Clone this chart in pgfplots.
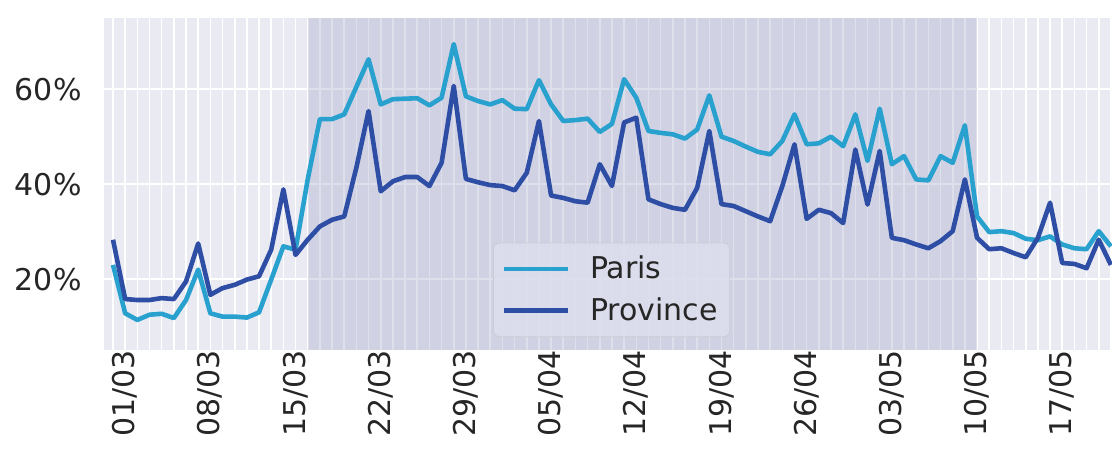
\documentclass[border=0pt]{standalone}
\usepackage{pgfplots}
\pgfplotsset{compat=1.18}
\usepackage{pgfplotstable}
\usepackage{fontspec}
\setmainfont{DejaVu Sans}
\definecolor{bgc}{RGB}{234,234,242}
\definecolor{shadec}{RGB}{166,171,205}
\definecolor{parisc}{RGB}{41,161,207}
\definecolor{provc}{RGB}{45,78,164}
\definecolor{txtc}{RGB}{38,38,38}
\definecolor{legfill}{RGB}{220,222,236}
\definecolor{legdraw}{RGB}{204,204,214}

\pgfplotstableread{
d paris prov
0 23.0 28.3
1 12.8 15.8
2 11.4 15.6
3 12.5 15.6
4 12.7 16.0
5 11.8 15.8
6 15.6 19.5
7 22.0 27.5
8 12.8 16.7
9 12.1 18.1
10 12.1 18.8
11 11.9 19.9
12 13.0 20.6
13 19.9 26.2
14 26.9 38.9
15 26.2 25.1
16 41.0 28.3
17 53.7 31.1
18 53.7 32.5
19 54.7 33.2
20 60.5 43.5
21 66.3 55.4
22 56.8 38.5
23 57.9 40.6
24 58.0 41.5
25 58.1 41.5
26 56.6 39.6
27 58.2 44.5
28 69.5 60.7
29 58.5 41.1
30 57.5 40.4
31 56.8 39.8
32 57.7 39.6
33 55.9 38.7
34 55.8 42.4
35 61.9 53.3
36 56.8 37.6
37 53.3 37.1
38 53.5 36.4
39 53.8 36.1
40 51.0 44.2
41 52.7 39.6
42 62.1 53.0
43 58.2 54.0
44 51.2 36.8
45 50.8 35.8
46 50.5 35.0
47 49.6 34.6
48 51.5 39.2
49 58.7 51.2
50 50.0 35.8
51 49.1 35.4
52 47.9 34.3
53 46.8 33.2
54 46.3 32.2
55 49.1 39.6
56 54.7 48.4
57 48.4 32.7
58 48.6 34.6
59 50.0 33.9
60 48.0 31.8
61 54.7 47.3
62 44.9 35.7
63 55.9 47.0
64 44.2 28.7
65 45.9 28.2
66 41.0 27.3
67 40.8 26.5
68 45.9 28.0
69 44.5 30.1
70 52.4 41.0
71 33.2 28.7
72 29.9 26.3
73 30.1 26.5
74 29.7 25.5
75 28.5 24.6
76 28.2 28.7
77 29.0 36.1
78 27.3 23.4
79 26.5 23.2
80 26.3 22.3
81 30.1 28.3
82 26.9 23.0
}\datatable

\begin{document}
\begin{tikzpicture}
\path[use as bounding box] (-52pt,-52.5pt) rectangle (504pt,175pt);
\begin{axis}[
  scale only axis,
  width=504pt, height=166pt,
  xmin=-0.74, xmax=82.09,
  ymin=5.07, ymax=75.0,
  axis background/.style={fill=bgc},
  axis line style={draw=none},
  tick style={draw=none},
  major tick length=0pt,
  xtick={0,7,...,77},
  xticklabels={01/03,08/03,15/03,22/03,29/03,05/04,12/04,19/04,26/04,03/05,10/05,17/05},
  minor xtick={0,1,...,82},
  ytick={20,40,60},
  yticklabels={20\%,40\%,60\%},
  xmajorgrids=true, xminorgrids=true, ymajorgrids=true,
  grid style={white, line width=0.8pt},
  major grid style={white, line width=0.8pt},
  minor grid style={white, line width=0.8pt},
  /pgf/number format/assume math mode=true,
  tick label style={font=\fontsize{15}{18}\selectfont, text=txtc},
  xticklabel style={rotate=90, anchor=east, inner sep=0pt, yshift=-6pt},
  yticklabel style={anchor=east, inner sep=0pt, xshift=-11pt},
  legend style={
    at={(0.386,0.039)}, anchor=south west,
    fill=legfill, fill opacity=0.9, text opacity=1,
    draw=legdraw, rounded corners=3pt,
    font=\fontsize{15}{18}\selectfont, text=txtc,
    inner xsep=4pt, inner ysep=4.5pt,
    row sep=4pt,
    nodes={inner sep=2pt},
    /tikz/every odd column/.append style={column sep=8pt},
  },
  legend cell align=left,
  legend image code/.code={\draw[#1] (0pt,0pt) -- (32pt,0pt);},
]
\fill[shadec, opacity=0.38] (axis cs:16,5.07) rectangle (axis cs:71,75);
\addplot[color=parisc, line width=2.3pt, line join=round] table[x=d, y=paris] {\datatable};
\addlegendentry{Paris}
\addplot[color=provc, line width=2.3pt, line join=round] table[x=d, y=prov] {\datatable};
\addlegendentry{Province}
\end{axis}
\end{tikzpicture}
\end{document}
